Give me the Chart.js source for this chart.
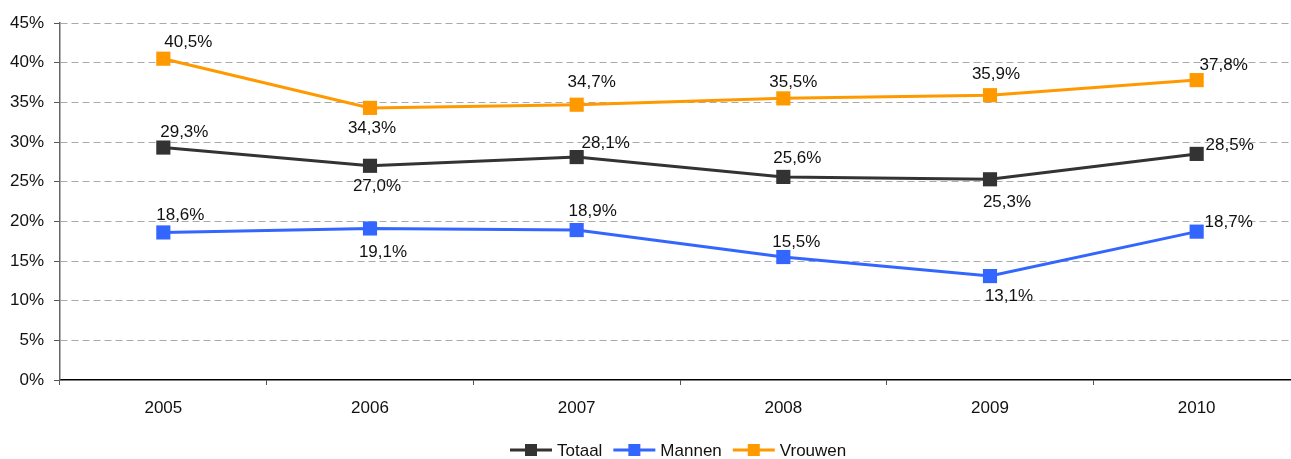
<!DOCTYPE html>
<html>
<head>
<meta charset="utf-8">
<script src="https://cdn.jsdelivr.net/npm/chart.js@4/dist/chart.umd.min.js"></script>
<style>
html,body{margin:0;padding:0;background:#fff;overflow:hidden;}
#wrap{width:1310px;height:459px;}
</style>
</head>
<body>
<div id="wrap"><canvas id="c" width="1310" height="459"></canvas></div>
<script>
const years = ['2005','2006','2007','2008','2009','2010'];
const totaal = [29.3, 27.0, 28.1, 25.6, 25.3, 28.5];
const mannen = [18.6, 19.1, 18.9, 15.5, 13.1, 18.7];
const vrouwen = [40.5, 34.3, 34.7, 35.5, 35.9, 37.8];
const seriesNames = ['Totaal', 'Mannen', 'Vrouwen'];
const seriesColors = ['#333333', '#3366FF', '#FF9900'];

// label offsets (style): [dx, dy] from point centre
const labelOffsets = [
  [[21,-15],[7,21],[29,-14],[14,-19],[17,23],[33,-9]],
  [[17,-17],[13,24],[16,-19],[13,-15],[19,20],[32,-9]],
  [[25,-16],[2,20],[15,-22],[10,-16],[6,-21],[27,-15]]
];

const FONT = 'Liberation Sans, Arial, sans-serif';
const FS = 17;

function fmt(v){ return v.toFixed(1).replace('.', ',') + '%'; }

const labelPlugin = {
  id: 'valueLabels',
  afterDatasetsDraw(chart){
    const ctx = chart.ctx;
    ctx.save();
    ctx.font = FS + 'px ' + FONT;
    ctx.fillStyle = '#111';
    ctx.textAlign = 'center';
    ctx.textBaseline = 'middle';
    chart.data.datasets.forEach((ds, di) => {
      const meta = chart.getDatasetMeta(di);
      meta.data.forEach((pt, i) => {
        const o = labelOffsets[di][i];
        ctx.fillText(fmt(ds.data[i]), pt.x + o[0], pt.y + o[1]);
      });
    });
    ctx.restore();
  }
};

const legendPlugin = {
  id: 'customLegend',
  afterDraw(chart){
    const ctx = chart.ctx;
    ctx.save();
    ctx.font = FS + 'px ' + FONT;
    ctx.textBaseline = 'middle';
    const lineW = 42, gap = 5, itemGap = 11;
    const widths = seriesNames.map(n => ctx.measureText(n).width);
    let x = 510;
    const y = 450;
    seriesNames.forEach((n, i) => {
      ctx.strokeStyle = seriesColors[i];
      ctx.lineWidth = 3;
      ctx.beginPath();
      ctx.moveTo(x, y);
      ctx.lineTo(x + lineW, y);
      ctx.stroke();
      ctx.fillStyle = seriesColors[i];
      ctx.fillRect(x + lineW/2 - 6, y - 6, 12, 12);
      ctx.fillStyle = '#111';
      ctx.fillText(n, x + lineW + gap, y + 1);
      x += lineW + gap + widths[i] + itemGap;
    });
    ctx.restore();
  }
};

const mkDs = (label, data, color) => ({
  label, data,
  borderColor: color, backgroundColor: color,
  borderWidth: 3,
  pointStyle: 'rect', pointRadius: 10, pointHoverRadius: 10,
  pointBorderWidth: 0,
  tension: 0
});

new Chart(document.getElementById('c'), {
  type: 'line',
  data: {
    labels: years,
    datasets: [
      mkDs(seriesNames[0], totaal, seriesColors[0]),
      mkDs(seriesNames[1], mannen, seriesColors[1]),
      mkDs(seriesNames[2], vrouwen, seriesColors[2])
    ]
  },
  options: {
    responsive: false,
    animation: false,
    layout: { padding: { top: 23, right: 10, left: 0, bottom: 0 } },
    plugins: { legend: { display: false }, tooltip: { enabled: false } },
    scales: {
      x: {
        offset: true,
        grid: { offset: true, drawOnChartArea: false, tickLength: 5, color: '#555', tickColor: '#555', lineWidth: 1 },
        border: { color: '#000', width: 1.5 },
        ticks: { font: { family: FONT, size: FS }, color: '#111', padding: 13 },
        afterFit(s){ s.height = 79; }
      },
      y: {
        min: 0, max: 45,
        ticks: { stepSize: 5, callback: v => v + '%', font: { family: FONT, size: FS }, color: '#111', padding: 10 },
        grid: {
          color: ctx => ctx.tick && ctx.tick.value === 0 ? 'rgba(0,0,0,0)' : '#aaaaaa',
          tickColor: '#555',
          tickLength: 6,
          tickBorderDash: [],
          lineWidth: 1
        },
        border: { color: '#666', width: 1.5, dash: [7, 4] },
        afterFit(s){ s.width = 60; }
      }
    }
  },
  plugins: [labelPlugin, legendPlugin]
});
</script>
</body>
</html>
